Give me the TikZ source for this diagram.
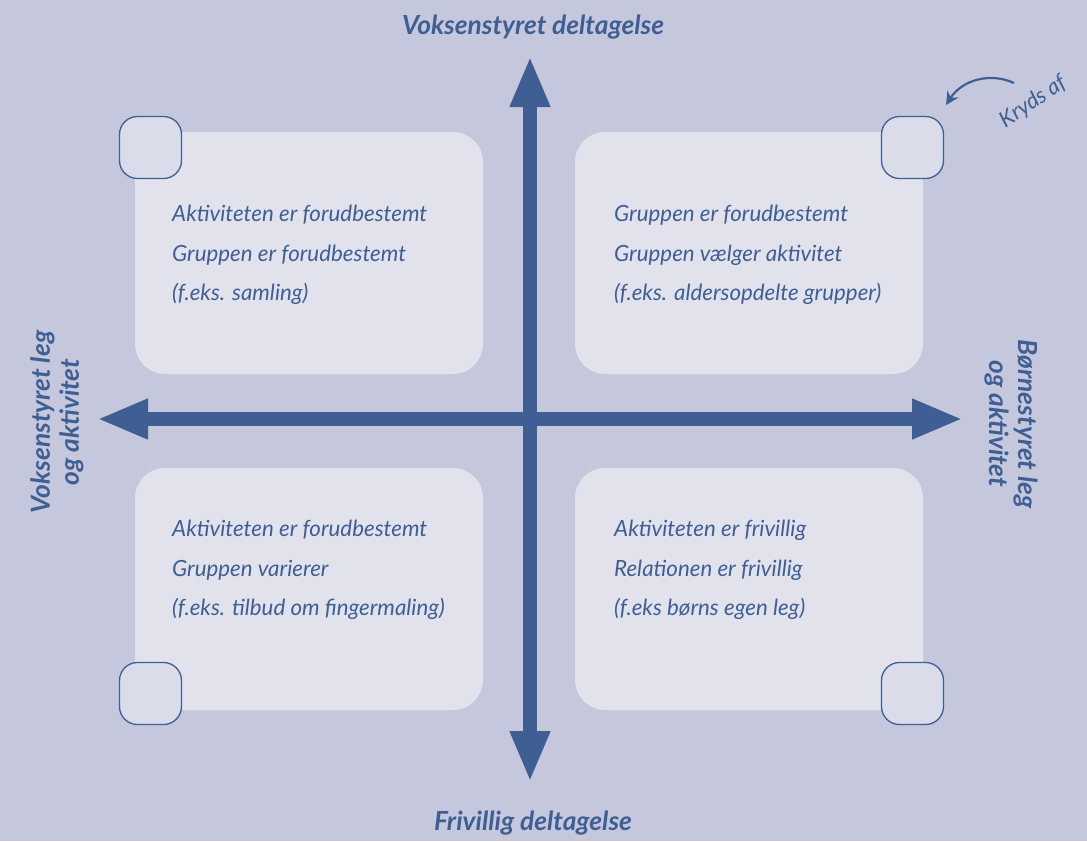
\documentclass[tikz,border=0pt]{standalone}
\usepackage{fontspec}
\setmainfont{Lato}
\usetikzlibrary{arrows.meta}
\definecolor{bgc}{HTML}{C5C8DC}
\definecolor{boxc}{HTML}{E1E2EC}
\definecolor{chkc}{HTML}{DADCEA}
\definecolor{blu}{HTML}{3E5E94}
\tikzset{
  quad/.style={fill=boxc, draw=none, rounded corners=30pt, minimum width=348pt, minimum height=242pt, inner sep=0pt},
  chk/.style={fill=chkc, draw=blu, line width=1.3pt, rounded corners=18pt, minimum width=62pt, minimum height=62pt, inner sep=0pt},
  body/.style={text=blu, font=\fontsize{22.3}{39.5}\selectfont\itshape, align=left, anchor=north west, inner sep=0pt},
  ttl/.style={text=blu, font=\fontsize{26.3}{29}\selectfont\bfseries\itshape, inner sep=0pt},
  axis/.style={draw=blu, line width=14.5pt},
  tipa/.tip={Triangle[width=37pt,length=51pt]}
}
\begin{document}
\begin{tikzpicture}[x=1pt,y=-1pt]
\fill[bgc] (0,0) rectangle (1087,841);
\useasboundingbox (0,0) rectangle (1087,841);
% quadrant boxes
\node[quad] (q1) at (309,253) {};
\node[quad] (q2) at (749,253) {};
\node[quad] (q3) at (309,589) {};
\node[quad] (q4) at (749,589) {};
% axes
\coordinate (top) at (530,56);
\coordinate (bot) at (530,782);
\coordinate (lft) at (97,419);
\coordinate (rgt) at (963,419);
\draw[axis, tipa-tipa] (bot) -- (top);
\draw[axis, tipa-tipa] (lft) -- (rgt);
% checkboxes
\node[chk] (c1) at (150.5,147.5) {};
\node[chk] (c2) at (912.5,147.5) {};
\node[chk] (c3) at (150.5,693.5) {};
\node[chk] (c4) at (912.5,693.5) {};
% texts
\node[body] (t1) at (172,205) {Aktiviteten er forudbestemt\\Gruppen er forudbestemt\\(f.eks. samling)};
\node[body] (t2) at (614,205) {Gruppen er forudbestemt\\Gruppen vælger aktivitet\\(f.eks. aldersopdelte grupper)};
\node[body] (t3) at (172,520) {Aktiviteten er forudbestemt\\Gruppen varierer\\(f.eks. tilbud om fingermaling)};
\node[body] (t4) at (614,520) {Aktiviteten er frivillig\\Relationen er frivillig\\(f.eks børns egen leg)};
% titles
\node[ttl] (vt) at (533,27) {Voksenstyret deltagelse};
\node[ttl] (vb) at (533,823) {Frivillig deltagelse};
\node[ttl, rotate=90, align=center] (vl) at (57,422) {Voksenstyret leg\\og aktivitet};
\node[ttl, rotate=-90, align=center] (vr) at (1011,424) {Børnestyret leg\\og aktivitet};
% Kryds af
\node[text=blu, font=\fontsize{22}{26}\selectfont\itshape, rotate=34, inner sep=0pt] (kr) at (1033,102) {Kryds af};
\coordinate (ks) at (1014,83);
\coordinate (ke) at (946,105);
\draw[blu, line width=2.2pt, -{Stealth[width=13pt,length=13pt]}] (ks) .. controls (990,72) and (962,80) .. (ke);
\end{tikzpicture}
\end{document}
